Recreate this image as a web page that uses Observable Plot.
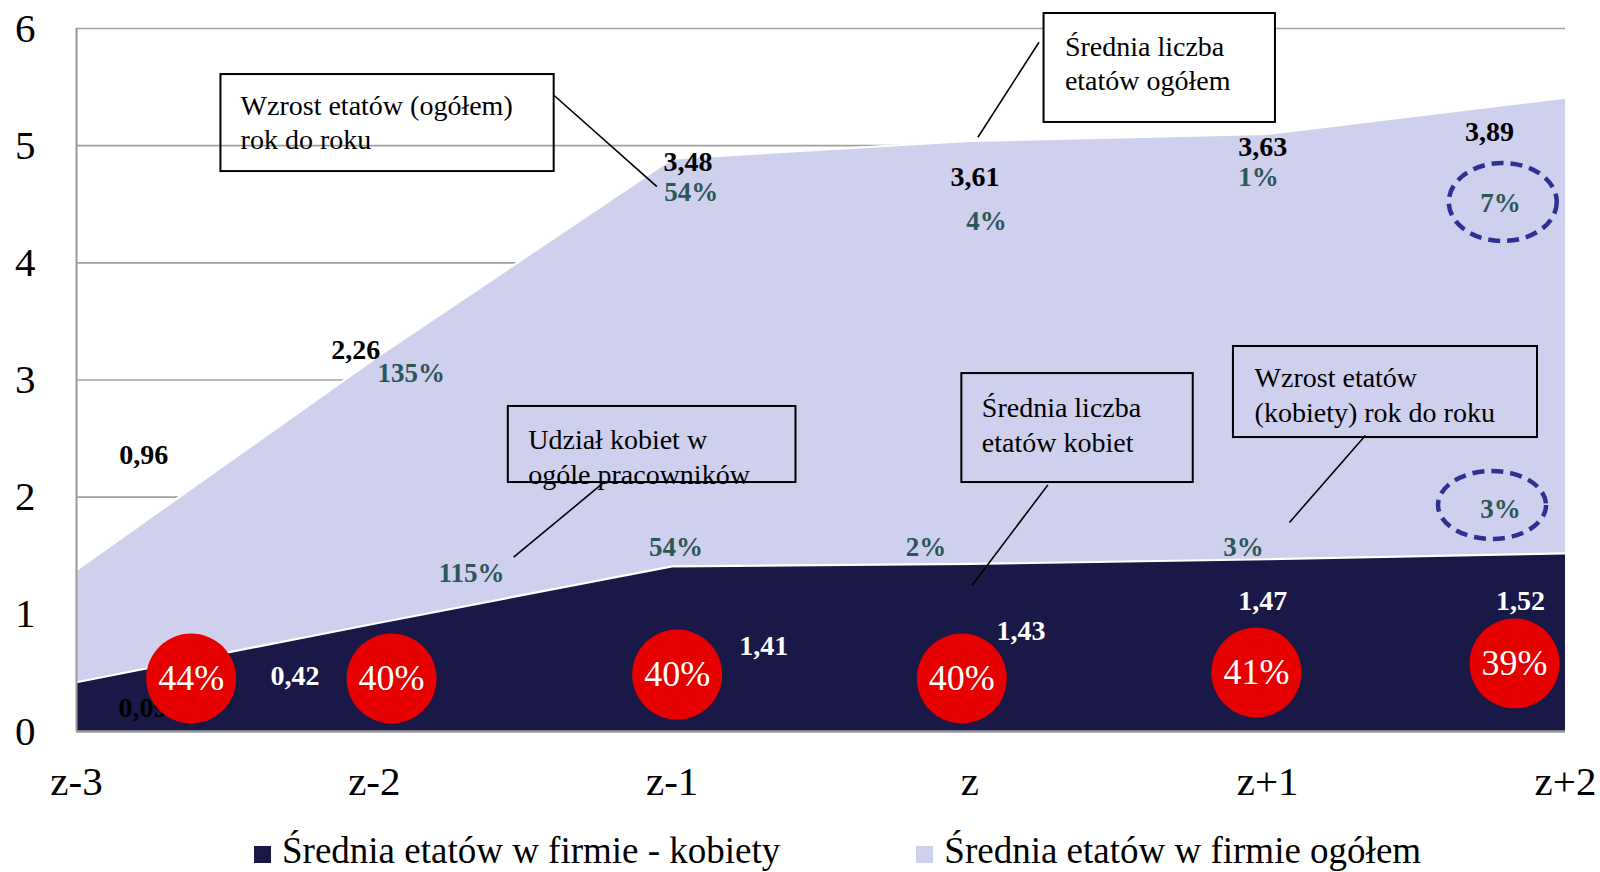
<!DOCTYPE html>
<html>
<head>
<meta charset="utf-8">
<script src="https://cdn.jsdelivr.net/npm/d3@7"></script>
<script src="https://cdn.jsdelivr.net/npm/@observablehq/plot@0.6"></script>
<style>
  html, body { margin: 0; padding: 0; background: #fff; overflow: hidden; }
  #chart svg { display: block; }
  .legend { height: 61px; line-height: 61px; font-family: "Liberation Serif", "Times New Roman", serif; font-size: 37px; color: #000; padding-left: 254px; display: flex; gap: 136px; white-space: nowrap; }
  .legend .sw { display: inline-block; width: 17px; height: 17px; margin-right: 11px; vertical-align: baseline; }
</style>
</head>
<body>
<div id="chart"></div>
<div class="legend">
  <span><span class="sw" style="background:#191846"></span>Średnia etatów w firmie - kobiety</span>
  <span><span class="sw" style="background:#cfcfee"></span>Średnia etatów w firmie ogółem</span>
</div>
<script>
// ---------------- DATA ----------------
const categories = ["z-3", "z-2", "z-1", "z", "z+1", "z+2"];
const womenFTE   = [0.42, 0.92, 1.41, 1.43, 1.47, 1.52];   // dark area (bottom)
const othersFTE  = [0.96, 2.26, 3.48, 3.61, 3.63, 3.89];   // stacked above (labelled values)
const womenLabels = ["0,09", "0,42", "1,41", "1,43", "1,47", "1,52"];
const totalGrowth = ["", "135%", "54%", "4%", "1%", "7%"];
const womenGrowth = ["", "115%", "54%", "2%", "3%", "3%"];
const womenShare  = ["44%", "40%", "40%", "40%", "41%", "39%"];
const yTicks = [0, 1, 2, 3, 4, 5, 6];
const seriesNames = ["kobiety", "ogółem"];

const boxTexts = [
  "Wzrost etatów (ogółem)\nrok do roku",
  "Średnia liczba\netatów ogółem",
  "Udział kobiet w\nogóle pracowników",
  "Średnia liczba\netatów kobiet",
  "Wzrost etatów\n(kobiety) rok do roku"
];

// ---------------- LAYOUT (label/annotation anchors, in data units) ----------------
const othersLabelPos = [[0.226, 2.287], [0.938, 3.183], [2.053, 4.788], [3.017, 4.660], [3.983, 4.916], [4.745, 5.044]];
const totalGrowthPos = [null, [1.124, 2.979], [2.064, 4.532], [3.056, 4.276], [3.969, 4.660], [4.782, 4.430]];
const womenGrowthPos = [null, [1.326, 1.272], [2.013, 1.502], [2.853, 1.502], [3.919, 1.502], [4.782, 1.818]];
const womenLabelPos  = [[0.223, 0.128], [0.734, 0.393], [2.308, 0.657], [3.172, 0.777], [3.983, 1.041], [4.849, 1.041]];
const sharePos       = [[0.385, 0.452], [1.058, 0.452], [2.017, 0.486], [2.973, 0.452], [3.962, 0.504], [4.829, 0.580]];
const boxes = [
  {x1: 0.485, x2: 1.604, y1: 4.779, y2: 5.607, tx: 0.551, ty: 5.470, fill: "none"},
  {x1: 3.249, x2: 4.026, y1: 5.198, y2: 6.128, tx: 3.319, ty: 5.974, fill: "white"},
  {x1: 1.450, x2: 2.416, y1: 2.125, y2: 2.774, tx: 1.517, ty: 2.619, fill: "none"},
  {x1: 2.973, x2: 3.750, y1: 2.125, y2: 3.055, tx: 3.040, ty: 2.892, fill: "none"},
  {x1: 3.885, x2: 4.906, y1: 2.509, y2: 3.286, tx: 3.956, ty: 3.148, fill: "none"}
];
const leaders = [
  [1.604, 5.428, 1.949, 4.651],
  [3.232, 5.883, 3.027, 5.072],
  [1.772, 2.128, 1.468, 1.488],
  [3.262, 2.105, 3.007, 1.246],
  [4.328, 2.526, 4.073, 1.784]
];
const ellipses = [{x: 4.791, y: 4.515, rx: 54, ry: 39}, {x: 4.755, y: 1.929, rx: 54, ry: 34}];

// ---------------- BUILD ----------------
const rows = [];
categories.forEach((c, i) => {
  rows.push({i, series: seriesNames[0], value: womenFTE[i]});
  rows.push({i, series: seriesNames[1], value: othersFTE[i]});
});
const fmt = v => v.toFixed(2).replace(".", ",");
const idx = categories.map((c, i) => i);

const SERIF = "'Liberation Serif', 'Times New Roman', serif";
const TEAL = "#2a5757";

const chart = Plot.plot({
  width: 1600,
  height: 820,
  marginLeft: 76,
  marginRight: 35,
  marginTop: 28,
  marginBottom: 89,
  style: {fontFamily: SERIF, fontSize: "41px", color: "#000", background: "white"},
  x: {type: "linear", domain: [0, categories.length - 1], ticks: categories.length, tickFormat: i => categories[i], tickSize: 0, tickPadding: 34, label: null},
  y: {domain: [0, 6], ticks: yTicks, tickFormat: d => String(d), tickSize: 0, tickPadding: 41, label: null},
  color: {domain: seriesNames, range: ["#191846", "#cfcfee"]},
  marks: [
    Plot.ruleY(yTicks.filter(t => t > 0), {stroke: "#a0a0a0", strokeWidth: 1.6}),
    Plot.areaY(rows, {x: "i", y: "value", z: "series", fill: "series", order: seriesNames, curve: "linear"}),
    Plot.lineY(rows, Plot.stackY2({x: "i", y: "value", z: "series", order: seriesNames, stroke: "white", strokeWidth: 2.2})),
    Plot.ruleX([0], {stroke: "#999", strokeWidth: 2}),
    Plot.ruleY([0], {stroke: "#999", strokeWidth: 2.5}),
    // values (others) – black bold
    Plot.text(idx, {x: i => othersLabelPos[i][0], y: i => othersLabelPos[i][1], text: i => fmt(othersFTE[i]), fill: "#000", fontFamily: SERIF, fontWeight: "bold", fontSize: 28, lineAnchor: "bottom"}),
    // total growth – teal
    Plot.text(idx.filter(i => totalGrowth[i]), {x: i => totalGrowthPos[i][0], y: i => totalGrowthPos[i][1], text: i => totalGrowth[i], fill: TEAL, fontFamily: SERIF, fontWeight: "bold", fontSize: 27, lineAnchor: "bottom"}),
    // women growth – teal
    Plot.text(idx.filter(i => womenGrowth[i]), {x: i => womenGrowthPos[i][0], y: i => womenGrowthPos[i][1], text: i => womenGrowth[i], fill: TEAL, fontFamily: SERIF, fontWeight: "bold", fontSize: 27, lineAnchor: "bottom"}),
    // women values
    Plot.text(idx, {x: i => womenLabelPos[i][0], y: i => womenLabelPos[i][1], text: i => womenLabels[i], fill: i => i === 0 ? "#000" : "#fff", fontFamily: SERIF, fontWeight: "bold", fontSize: 28, lineAnchor: "bottom"}),
    // share of women – red circles
    Plot.dot(idx, {x: i => sharePos[i][0], y: i => sharePos[i][1], r: 45, fill: "#e60000", stroke: "none"}),
    Plot.text(idx, {x: i => sharePos[i][0], y: i => sharePos[i][1], text: i => womenShare[i], fill: "#fff", fontFamily: SERIF, fontSize: 36, lineAnchor: "middle"}),
    // annotation boxes
    Plot.rect(boxes, {x1: "x1", x2: "x2", y1: "y1", y2: "y2", fill: d => d.fill, stroke: "#000", strokeWidth: 2}),
    Plot.text(boxes, {x: "tx", y: "ty", text: (d, i) => boxTexts[i], textAnchor: "start", lineAnchor: "top", fontFamily: SERIF, fontSize: 28, lineHeight: 1.23, fill: "#000"}),
    Plot.link(leaders, {x1: d => d[0], y1: d => d[1], x2: d => d[2], y2: d => d[3], stroke: "#000", strokeWidth: 1.6})
  ]
});

const sx = chart.scale("x"), sy = chart.scale("y");
const svg = d3.select(chart);
svg.append("g").selectAll("ellipse").data(ellipses).join("ellipse")
  .attr("cx", d => sx.apply(d.x)).attr("cy", d => sy.apply(d.y))
  .attr("rx", d => d.rx).attr("ry", d => d.ry)
  .attr("fill", "none").attr("stroke", "#2e3192").attr("stroke-width", 4.5)
  .attr("stroke-dasharray", "12 7");

document.getElementById("chart").appendChild(chart);
</script>
</body>
</html>
